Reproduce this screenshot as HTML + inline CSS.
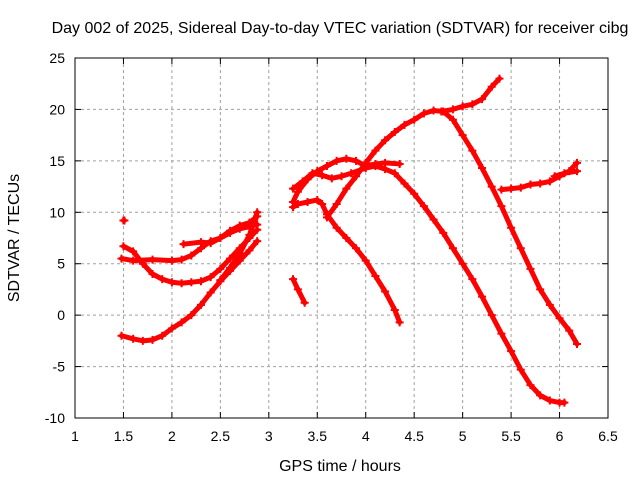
<!DOCTYPE html>
<html><head><meta charset="utf-8">
<style>
body{margin:0;background:#fff;}
svg{display:block;font-family:"Liberation Sans",sans-serif;}
</style></head>
<body>
<svg id="chart" width="640" height="480">
<text x="340" y="33" font-size="16" text-anchor="middle">Day 002 of 2025, Sidereal Day-to-day VTEC variation (SDTVAR) for receiver cibg</text>
<text x="340" y="471" font-size="16" text-anchor="middle">GPS time / hours</text>
<text transform="translate(19,238) rotate(-90)" font-size="16" text-anchor="middle">SDTVAR / TECUs</text>
<g id="grid"></g><g id="series"></g>
<rect x="75" y="58" width="533" height="360" fill="none" stroke="#000"/>
</svg>
<script>
const xTicks=[1,1.5,2,2.5,3,3.5,4,4.5,5,5.5,6,6.5];
const xTickLabels=["1","1.5","2","2.5","3","3.5","4","4.5","5","5.5","6","6.5"];
const yTicks=[-10,-5,0,5,10,15,20,25];
const yTickLabels=["-10","-5","0","5","10","15","20","25"];
const trackA=[[1.5,9.2],[1.51,9.2]];
const trackB=[[1.5,6.7],[1.6,6.2],[1.7,5.0],[1.8,4.0],[1.9,3.5],[2.0,3.2],[2.1,3.1],[2.2,3.2],[2.3,3.3],[2.4,3.7],[2.5,4.5],[2.6,5.5],[2.7,6.5],[2.8,7.5],[2.88,8.3]];
const trackC=[[1.48,5.5],[1.6,5.3],[1.8,5.4],[2.0,5.3],[2.1,5.4],[2.2,5.8],[2.3,6.5],[2.4,7.2],[2.5,7.5],[2.6,8.0],[2.7,8.4],[2.8,8.6],[2.88,8.8]];
const trackD=[[2.12,6.9],[2.3,7.1],[2.4,7.0],[2.5,7.5],[2.6,8.2],[2.7,8.7],[2.8,9.0],[2.88,9.6]];
const trackE=[[1.48,-2.0],[1.6,-2.3],[1.7,-2.5],[1.8,-2.4],[1.9,-2.0],[2.0,-1.3],[2.1,-0.7],[2.2,0],[2.3,1.0],[2.4,2.2],[2.5,3.3],[2.6,4.3],[2.7,5.3],[2.8,6.3],[2.88,7.2]];
const trackF=[[2.5,3.4],[2.6,4.6],[2.7,6.0],[2.8,7.8],[2.88,10.0]];
const trackG=[[3.25,3.5],[3.3,2.5],[3.37,1.2]];
const trackH=[[3.25,10.5],[3.3,10.8],[3.4,11.0],[3.5,11.2],[3.55,10.8],[3.6,9.8],[3.7,8.5],[3.8,7.5],[3.9,6.5],[4.0,5.3],[4.1,3.8],[4.2,2.3],[4.3,0.5],[4.35,-0.7]];
const trackI=[[3.25,11.0],[3.3,12.0],[3.4,13.2],[3.5,14.0],[3.6,14.5],[3.7,15.0],[3.8,15.2],[3.9,15.0],[4.0,14.5],[4.1,14.7],[4.2,14.8],[4.35,14.7]];
const trackJ=[[3.25,12.3],[3.35,13.0],[3.45,13.8],[3.55,13.6],[3.65,13.3],[3.75,13.5],[3.85,13.8],[4.0,14.3],[4.1,14.5],[4.2,14.2],[4.3,13.8],[4.4,12.8],[4.5,11.8],[4.6,10.6],[4.7,9.3],[4.8,8.0],[4.9,6.5],[5.0,5.0],[5.1,3.5],[5.2,1.8],[5.3,0],[5.4,-1.8],[5.5,-3.5],[5.6,-5.3],[5.7,-6.8],[5.8,-7.8],[5.9,-8.3],[6.0,-8.5],[6.05,-8.5]];
const trackK=[[3.6,9.5],[3.7,10.8],[3.8,12.3],[3.9,13.5],[4.0,14.8],[4.1,16.0],[4.2,17.0],[4.3,17.8],[4.4,18.5],[4.5,19.0],[4.6,19.6],[4.7,19.9],[4.8,19.8],[4.9,19.0],[5.0,17.5],[5.1,16.0],[5.2,14.3],[5.3,12.5],[5.4,10.6],[5.5,8.5],[5.6,6.5],[5.7,4.5],[5.8,2.5],[5.9,1.0],[6.0,-0.3],[6.1,-1.5],[6.18,-2.8]];
const trackL=[[4.78,19.8],[4.9,20.0],[5.0,20.3],[5.1,20.5],[5.2,21.0],[5.3,22.2],[5.38,23.0]];
const trackM=[[5.4,12.2],[5.5,12.3],[5.6,12.4],[5.7,12.7],[5.8,12.8],[5.9,13.0],[6.0,13.5],[6.1,14.0],[6.18,14.8]];
const trackN=[[5.95,13.5],[6.05,13.8],[6.18,14.0]];
const tracks=[trackA,trackB,trackC,trackD,trackE,trackF,trackG,trackH,trackI,trackJ,trackK,trackL,trackM,trackN];

const X0=75,X1=608,Y0=418,Y1=58;
function sx(v){return X0+(v-1)/(6.5-1)*(X1-X0);}
function sy(v){return Y0-(v+10)/35*(Y0-Y1);}
const NS="http://www.w3.org/2000/svg";
const grid=document.getElementById('grid'), ser=document.getElementById('series');
function mk(t,a,p){const e=document.createElementNS(NS,t);for(const k in a)e.setAttribute(k,a[k]);p.appendChild(e);return e;}
xTicks.forEach((v,i)=>{
  const x=sx(v);
  if(i>0&&i<xTicks.length-1){const g=mk('line',{x1:x,x2:x,y1:Y1,y2:Y0,stroke:'#a0a0a0','stroke-dasharray':'3,3'},grid);
  
  }
  mk('line',{x1:x,x2:x,y1:Y0,y2:Y0-6,stroke:'#000'},grid);
  mk('line',{x1:x,x2:x,y1:Y1,y2:Y1+6,stroke:'#000'},grid);
  const t=mk('text',{x:x,y:Y0+23,'font-size':14,'text-anchor':'middle'},grid);t.textContent=xTickLabels[i];
  
  
});
yTicks.forEach((v,i)=>{
  const y=sy(v);
  if(i>0&&i<yTicks.length-1){const g=mk('line',{x1:X0,x2:X1,y1:y,y2:y,stroke:'#a0a0a0','stroke-dasharray':'3,3'},grid);
  
  }
  mk('line',{x1:X0,x2:X0+6,y1:y,y2:y,stroke:'#000'},grid);
  mk('line',{x1:X1,x2:X1-6,y1:y,y2:y,stroke:'#000'},grid);
  const t=mk('text',{x:X0-10,y:y+5,'font-size':14,'text-anchor':'end'},grid);t.textContent=yTickLabels[i];
  
  
});
tracks.forEach((tr,i)=>{
  const p=mk('polyline',{points:tr.map(d=>sx(d[0])+','+sy(d[1])).join(' '),fill:'none',stroke:'#f00','stroke-width':5,'stroke-linejoin':'round','stroke-linecap':'round'},ser);
  
  
  tr.forEach(d=>{
    const x=sx(d[0]),y=sy(d[1]);
    const m=mk('path',{d:`M${x-4},${y}H${x+4}M${x},${y-4}V${y+4}`,stroke:'#f00','stroke-width':2},ser);
    
    
  });
});
</script>
</body></html>
